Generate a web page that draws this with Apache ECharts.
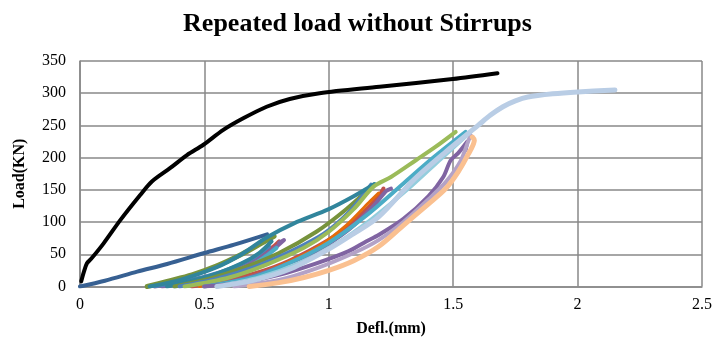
<!DOCTYPE html>
<html><head><meta charset="utf-8">
<script src="https://cdn.jsdelivr.net/npm/echarts@6/dist/echarts.min.js"></script>
<style>html,body{margin:0;padding:0;background:#fff}#c{width:715px;height:344px}</style>
</head><body><div id="c"></div>
<script>
const xTicks = [0, 0.5, 1, 1.5, 2, 2.5];
const yTicks = [0, 50, 100, 150, 200, 250, 300, 350];
// monotonic load
const monotonic = [[0.005,8],[0.015,22],[0.028,36],[0.045,43],[0.095,67],[0.162,103],[0.242,142],[0.289,163],[0.363,184],[0.43,204],[0.496,220],[0.576,243],[0.656,261],[0.75,279],[0.843,291],[0.963,300],[1.204,310],[1.498,322],[1.678,331]];
const cycle1 = [[0,0],[0.1,9],[0.23,23],[0.35,35],[0.5,52],[0.62,65],[0.752,81]];
// cycles to ~80 kN
const cA1 = [[0.27,0],[0.35,8],[0.45,18],[0.55,32],[0.65,50],[0.72,65],[0.78,78]];
const cA2 = [[0.3,0],[0.4,6],[0.5,14],[0.6,26],[0.7,44],[0.77,60],[0.8,70]];
const cA3 = [[0.33,0],[0.45,6],[0.55,14],[0.65,28],[0.73,45],[0.79,62],[0.82,72],[0.8,68]];
const cA4 = [[0.3,0],[0.42,8],[0.52,17],[0.62,30],[0.7,45],[0.76,62]];
const cA5 = [[0.38,0],[0.48,7],[0.58,17],[0.68,31],[0.75,48],[0.79,60]];
const cA6 = [[0.35,0],[0.45,9],[0.55,20],[0.65,36],[0.72,52],[0.77,70]];
// cycles to ~160 kN
const cB1 = [[0.28,0],[0.4,10],[0.55,30],[0.65,50],[0.75,76],[0.86,98],[1.0,120],[1.1,140],[1.184,159]];
const cB2 = [[0.4,0],[0.55,12],[0.7,30],[0.85,55],[0.98,82],[1.08,115],[1.17,158]];
const cB3 = [[0.38,0],[0.52,12],[0.65,28],[0.8,52],[0.95,85],[1.07,120],[1.18,158]];
const cB4 = [[0.45,0],[0.62,12],[0.78,30],[0.92,55],[1.05,85],[1.14,115],[1.2,140],[1.22,152],[1.21,145]];
const cB5 = [[0.5,0],[0.66,12],[0.8,30],[0.95,55],[1.08,88],[1.18,125],[1.23,148],[1.25,152]];
const cB6 = [[0.48,0],[0.65,12],[0.8,32],[0.95,60],[1.07,95],[1.16,130],[1.2,145]];
// cycles to ~240 kN
const cC1 = [[0.42,0],[0.6,14],[0.75,34],[0.9,60],[1.0,85],[1.1,120],[1.18,155],[1.25,170],[1.35,196],[1.43,217],[1.51,240]];
const cC2 = [[0.5,0],[0.7,15],[0.85,38],[1.0,68],[1.15,110],[1.3,160],[1.42,200],[1.55,240]];
const cC3 = [[0.55,0],[0.72,14],[0.88,36],[1.02,64],[1.17,104],[1.32,152],[1.45,198],[1.57,240]];
const cC4 = [[0.5,0],[0.65,6],[0.8,18],[0.95,36],[1.08,55],[1.15,70],[1.2,80],[1.3,105],[1.4,140],[1.46,170],[1.49,196],[1.52,207],[1.557,225],[1.55,212]];
const cC5 = [[0.62,0],[0.8,10],[0.95,28],[1.1,52],[1.2,72],[1.3,100],[1.4,135],[1.47,162],[1.53,195],[1.56,225],[1.57,235]];
const cC6 = [[0.68,0],[0.8,6],[0.9,14],[1.0,25],[1.1,40],[1.2,62],[1.3,95],[1.4,128],[1.47,152],[1.52,178],[1.56,205],[1.585,227],[1.577,232]];
// final cycle to failure
const cFinal = [[0.55,0],[0.7,10],[0.85,28],[1.0,58],[1.1,82],[1.2,108],[1.34,165],[1.47,209],[1.6,250],[1.65,266],[1.7,279],[1.75,288],[1.8,294],[1.9,299],[2.0,302],[2.15,305]];

const seriesList = [
  ['Monotonic', monotonic, '#000000', 4],
  ['Cycle 1', cycle1, '#376092', 4],
  ['A1', cA1, '#77933C', 5],
  ['A2', cA2, '#C0504D', 4],
  ['A3', cA3, '#8064A2', 4],
  ['A4', cA4, '#4F81BD', 4],
  ['A5', cA5, '#4BACC6', 4],
  ['A6', cA6, '#31859C', 4],
  ['B3', cB3, '#77933C', 4],
  ['B2', cB2, '#4F81BD', 4],
  ['B4', cB4, '#C0504D', 4],
  ['B6', cB6, '#E46C0A', 3],
  ['B5', cB5, '#8064A2', 4],
  ['B1', cB1, '#31859C', 4],
  ['C1', cC1, '#9BBB59', 4],
  ['C2', cC2, '#4BACC6', 4],
  ['C3', cC3, '#93CDDD', 4],
  ['C4', cC4, '#8064A2', 4],
  ['C5', cC5, '#B3A2C7', 4],
  ['C6', cC6, '#FAC090', 5],
  ['Final', cFinal, '#B9CDE5', 5]
];

const chart = echarts.init(document.getElementById('c'));
const serif = '"Liberation Serif","Times New Roman",serif';
chart.setOption({
  animation: false,
  title: { text: 'Repeated load without Stirrups', left: 'center', top: 6,
    textStyle: { fontFamily: serif, fontWeight: 'bold', fontSize: 26, color: '#000' } },
  grid: { left: 80, right: 12, top: 61, bottom: 57.5 },
  xAxis: { type: 'value', min: 0, max: 2.5, interval: 0.5,
    name: 'Defl.(mm)', nameLocation: 'middle', nameGap: 34,
    nameTextStyle: { fontFamily: serif, fontWeight: 'bold', fontSize: 16, color: '#000' },
    axisLine: { lineStyle: { color: '#898989', width: 1.5 } }, axisTick: { show: false },
    axisLabel: { fontFamily: serif, fontSize: 16, color: '#000', margin: 10,
      formatter: v => xTicks.indexOf(v) >= 0 ? String(v) : '' },
    splitLine: { show: true, lineStyle: { color: '#898989', width: 1.5 } } },
  yAxis: { type: 'value', min: 0, max: 350, interval: 50,
    name: 'Load(KN)', nameLocation: 'middle', nameGap: 52, nameRotate: 90,
    nameTextStyle: { fontFamily: serif, fontWeight: 'bold', fontSize: 16, color: '#000' },
    axisLine: { show: true, lineStyle: { color: '#898989', width: 1.5 } }, axisTick: { show: false },
    axisLabel: { fontFamily: serif, fontSize: 16, color: '#000', margin: 14,
      formatter: v => yTicks.indexOf(v) >= 0 ? String(v) : '' },
    splitLine: { show: true, lineStyle: { color: '#898989', width: 1.5 } } },
  series: seriesList.map(s => ({
    name: s[0], type: 'line', data: s[1], showSymbol: false, smooth: 0.3,
    lineStyle: { color: s[2], width: s[3], cap: 'round', join: 'round' }, z: 2
  }))
});
</script></body></html>
